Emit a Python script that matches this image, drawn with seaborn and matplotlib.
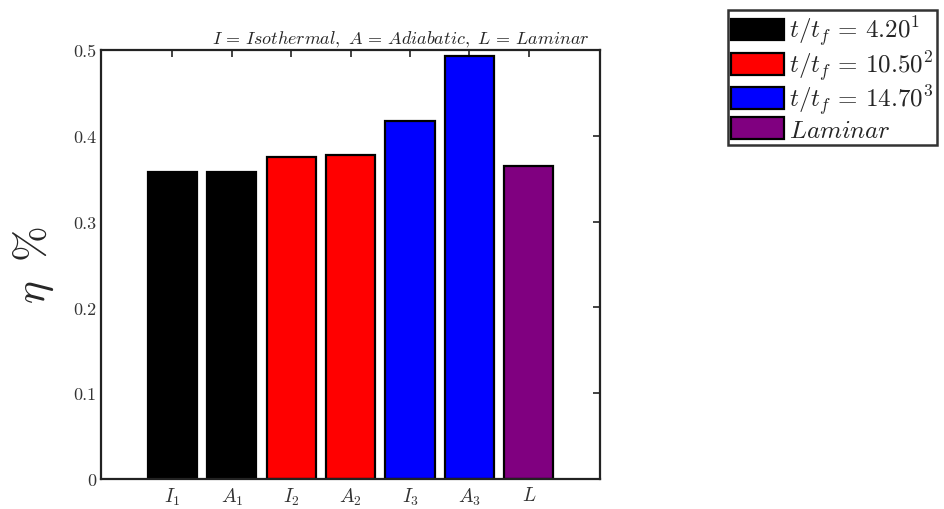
import matplotlib
matplotlib.use("Agg")
import matplotlib.pyplot as plt
import seaborn as sns
import pandas as pd

categories = [r"$I_1$", r"$A_1$", r"$I_2$", r"$A_2$", r"$I_3$", r"$A_3$", r"$L$"]
values = [0.358, 0.358, 0.375, 0.378, 0.417, 0.493, 0.365]
groups = [r"$t/t_f\,=\,4.20^1$", r"$t/t_f\,=\,4.20^1$",
          r"$t/t_f\,=\,10.50^2$", r"$t/t_f\,=\,10.50^2$",
          r"$t/t_f\,=\,14.70^3$", r"$t/t_f\,=\,14.70^3$",
          r"$Laminar$"]
group_order = [r"$t/t_f\,=\,4.20^1$", r"$t/t_f\,=\,10.50^2$", r"$t/t_f\,=\,14.70^3$", r"$Laminar$"]
colors = ["#000000", "#FF0000", "#0000FF", "#800080"]
yticks = [0, 0.1, 0.2, 0.3, 0.4, 0.5]
title = r"$I\,=\,Isothermal,\ A\,=\,Adiabatic,\ L\,=\,Laminar$"

sns.set_style("white")
plt.rcParams["font.family"] = "serif"
plt.rcParams["font.serif"] = ["cmr10", "DejaVu Serif"]
plt.rcParams["mathtext.fontset"] = "cm"
plt.rcParams["axes.formatter.use_mathtext"] = True

df = pd.DataFrame({"cat": categories, "val": values, "grp": groups})

fig = plt.figure(figsize=(9.45, 5.1), dpi=100)
ax = fig.add_axes([0.107, 0.059, 0.528, 0.841])

sns.barplot(data=df, x="cat", y="val", hue="grp", hue_order=group_order,
            palette=dict(zip(group_order, colors)), dodge=False, width=0.83,
            saturation=1, edgecolor="black", linewidth=1.6, ax=ax, legend=True)

ax.set_xlim(-1.2, 7.2)
ax.set_ylim(0, 0.5)
ax.set_yticks(yticks)
ax.set_yticklabels(["0", "0.1", "0.2", "0.3", "0.4", "0.5"])
ax.set_xlabel("")
ax.set_ylabel(r"$\eta\;\;\%$", fontsize=31, labelpad=12)
ax.set_title(title, fontsize=13, pad=5, x=0.6)

for sp in ax.spines.values():
    sp.set_visible(True)
    sp.set_color("#222222")
    sp.set_linewidth(1.6)
ax.tick_params(axis="both", direction="in", length=5, width=1.2,
               top=True, right=True, labelsize=13, colors="#222222",
               labelcolor="#333333")
ax.tick_params(axis="x", labelsize=14, pad=5)

handles, labels = ax.get_legend_handles_labels()
ax.get_legend().remove()
leg = fig.legend(handles, labels, loc="upper left", bbox_to_anchor=(0.770, 0.978),
                 fontsize=18, frameon=True, fancybox=False, edgecolor="black",
                 handlelength=2.1, handleheight=0.95, handletextpad=0.2,
                 borderpad=0.15, labelspacing=0.0, borderaxespad=0)
leg.get_frame().set_linewidth(1.8)

fig.savefig("out.png", dpi=100, facecolor="white")
